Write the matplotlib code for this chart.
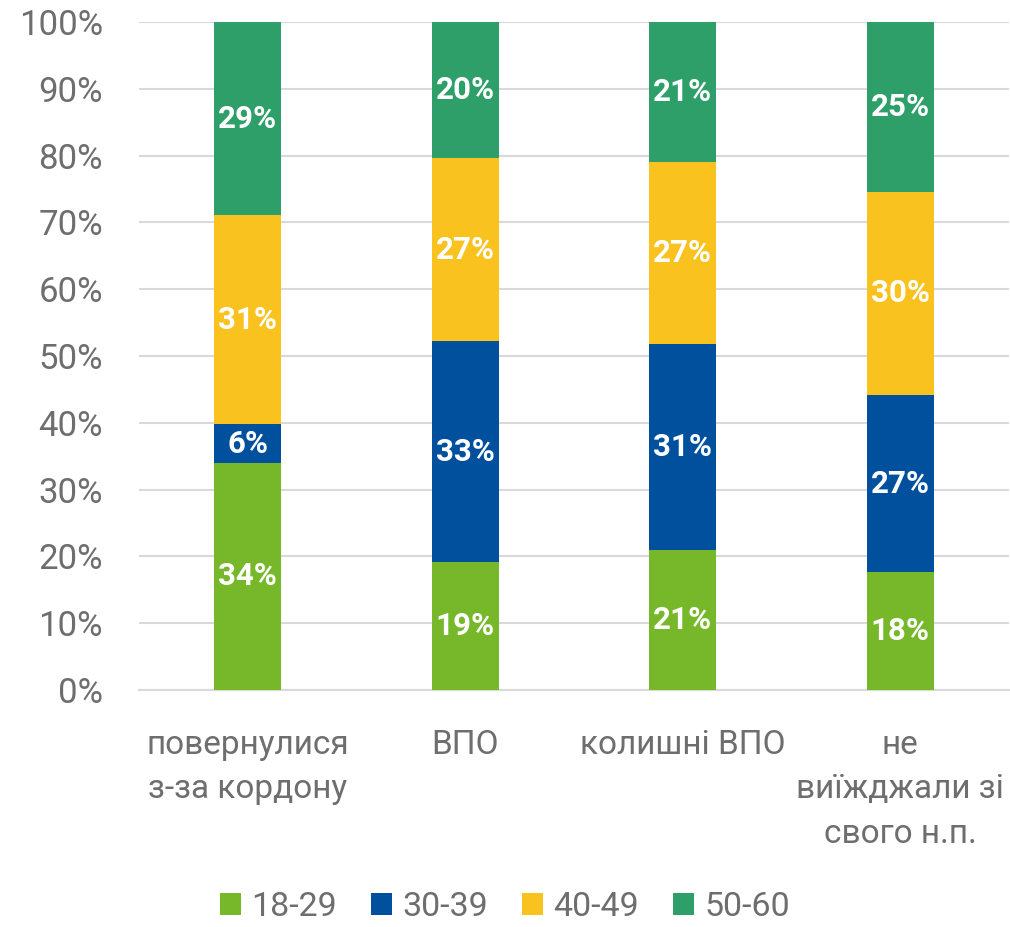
import matplotlib
matplotlib.use("Agg")
import matplotlib.pyplot as plt
import numpy as np

categories = ["повернулися\nз-за кордону", "ВПО", "колишні ВПО", "не\nвиїжджали зі\nсвого н.п."]
series_names = ["18-29", "30-39", "40-49", "50-60"]
v_18_29 = [34.0, 19.2, 21.0, 17.6]
v_30_39 = [5.8, 33.0, 30.8, 26.6]
v_40_49 = [31.3, 27.4, 27.2, 30.4]
v_50_60 = [28.9, 20.4, 21.0, 25.4]
colors = ["#76B82A", "#00509E", "#F9C21E", "#2E9F68"]

plt.rcParams['font.family'] = ['Roboto', 'DejaVu Sans']
grey = "#6e6e6e"

fig = plt.figure(figsize=(10.10, 9.27), dpi=100)
ax = fig.add_axes([139/1010, 1 - 690/927, 870/1010, 668/927])

x = np.arange(len(categories))
bottom = np.zeros(len(categories))
handles = []
for name, vals, c in zip(series_names, [v_18_29, v_30_39, v_40_49, v_50_60], colors):
    vals = np.array(vals)
    b = ax.bar(x, vals, bottom=bottom, width=0.31, color=c, label=name, zorder=3)
    handles.append(b)
    for xi, v, bt in zip(x, vals, bottom):
        ax.text(xi, bt + v / 2, f"{v:.0f}%", ha="center", va="center",
                color="white", fontsize=22.5, fontweight="bold", zorder=4)
    bottom += vals

ax.set_xlim(-0.5, len(categories) - 0.5)
ax.set_ylim(0, 100)
ax.set_yticks(np.arange(0, 101, 10))
ax.set_yticklabels([f"{t}%" for t in range(0, 101, 10)])
ax.yaxis.grid(True, color="#d9d9d9", linewidth=1.5, zorder=0)
ax.set_axisbelow(True)
for s in ["top", "right", "left"]:
    ax.spines[s].set_visible(False)
ax.spines["bottom"].set_color("#d9d9d9")
ax.spines["bottom"].set_linewidth(1.5)
ax.tick_params(axis="y", length=0, labelsize=25, labelcolor=grey, pad=26)
ax.tick_params(axis="x", length=0, labelsize=24, labelcolor=grey, pad=28)
ax.set_xticks(x)
ax.set_xticklabels(categories, linespacing=1.5)

fig.legend(handles=handles, labels=series_names, loc="center", bbox_to_anchor=(0.5, 1 - 907/927),
           ncol=4, frameon=False, fontsize=24.5, labelcolor=grey, handlelength=0.62, handleheight=0.62,
           handletextpad=0.3, columnspacing=1.0, borderpad=0.1)

fig.savefig("out.png", dpi=100)
